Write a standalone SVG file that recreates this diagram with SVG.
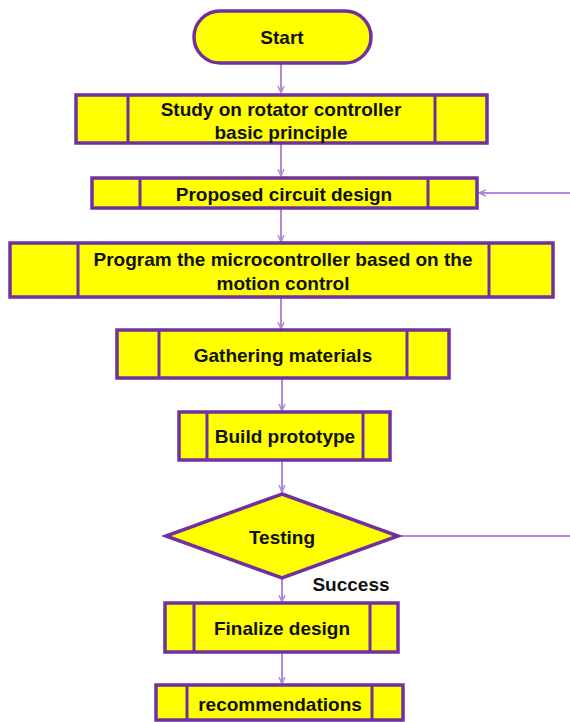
<svg xmlns="http://www.w3.org/2000/svg" width="570" height="722" viewBox="0 0 570 722">
<style>
.box{fill:#ffff00;stroke:#7030a0;stroke-width:3.5}
.div{stroke:#7030a0;stroke-width:3;fill:none}
.lbl{font-family:"Liberation Sans",Arial,sans-serif;font-weight:bold;font-size:19px;fill:#111;text-anchor:middle;dominant-baseline:central}
.con{stroke:#b08ad6;stroke-width:2;fill:none}
</style>
<defs>
<marker id="ah" markerWidth="8" markerHeight="8" refX="7" refY="4" orient="auto" markerUnits="userSpaceOnUse">
<path d="M0,1 L7,4 L0,7" fill="none" stroke="#b08ad6" stroke-width="1.5"/>
</marker>
</defs>
<rect width="570" height="722" fill="#ffffff"/>
<g id="connectors">
<line class="con" x1="281" y1="64" x2="281" y2="93" marker-end="url(#ah)"/>
<line class="con" x1="281" y1="144" x2="281" y2="176" marker-end="url(#ah)"/>
<line class="con" x1="281" y1="209" x2="281" y2="242" marker-end="url(#ah)"/>
<line class="con" x1="281" y1="298" x2="281" y2="329" marker-end="url(#ah)"/>
<line class="con" x1="282" y1="379" x2="282" y2="411" marker-end="url(#ah)"/>
<line class="con" x1="282" y1="461" x2="282" y2="492" marker-end="url(#ah)"/>
<line class="con" x1="282" y1="579" x2="282" y2="602" marker-end="url(#ah)"/>
<line class="con" x1="282" y1="653" x2="282" y2="684" marker-end="url(#ah)"/>
<line class="con" x1="570" y1="193" x2="479" y2="193" marker-end="url(#ah)"/>
<line class="con" x1="398" y1="536" x2="570" y2="536"/>
</g>
<g id="start">
<rect class="box" x="194" y="11" width="177" height="52" rx="26" ry="26"/>
<text class="lbl" x="282" y="37">Start</text>
</g>
<g id="study">
<rect class="box" x="76" y="95" width="411" height="48"/>
<line class="div" x1="128" y1="95" x2="128" y2="143"/>
<line class="div" x1="435" y1="95" x2="435" y2="143"/>
<text class="lbl" x="281" y="109">Study on rotator controller</text>
<text class="lbl" x="281" y="132">basic principle</text>
</g>
<g id="proposed">
<rect class="box" x="92" y="178" width="385" height="30"/>
<line class="div" x1="140" y1="178" x2="140" y2="208"/>
<line class="div" x1="428" y1="178" x2="428" y2="208"/>
<text class="lbl" x="284" y="194">Proposed circuit design</text>
</g>
<g id="program">
<rect class="box" x="10" y="243" width="543" height="54"/>
<line class="div" x1="78" y1="243" x2="78" y2="297"/>
<line class="div" x1="489" y1="243" x2="489" y2="297"/>
<text class="lbl" x="283" y="259">Program the microcontroller based on the</text>
<text class="lbl" x="283" y="283">motion control</text>
</g>
<g id="gathering">
<rect class="box" x="117" y="330" width="332" height="48"/>
<line class="div" x1="159" y1="330" x2="159" y2="378"/>
<line class="div" x1="407" y1="330" x2="407" y2="378"/>
<text class="lbl" x="283" y="355">Gathering materials</text>
</g>
<g id="build">
<rect class="box" x="179" y="412" width="211" height="48"/>
<line class="div" x1="207" y1="412" x2="207" y2="460"/>
<line class="div" x1="363" y1="412" x2="363" y2="460"/>
<text class="lbl" x="285" y="436">Build prototype</text>
</g>
<g id="testing">
<polygon class="box" points="282,494 398,536 282,578 166,536"/>
<text class="lbl" x="282" y="537">Testing</text>
</g>
<g id="success-label">
<text class="lbl" x="351" y="584">Success</text>
</g>
<g id="finalize">
<rect class="box" x="165" y="603" width="233" height="49"/>
<line class="div" x1="194" y1="603" x2="194" y2="652"/>
<line class="div" x1="370" y1="603" x2="370" y2="652"/>
<text class="lbl" x="282" y="628">Finalize design</text>
</g>
<g id="recommendations">
<rect class="box" x="156" y="685" width="247" height="35"/>
<line class="div" x1="187" y1="685" x2="187" y2="720"/>
<line class="div" x1="372" y1="685" x2="372" y2="720"/>
<text class="lbl" x="280" y="704">recommendations</text>
</g>
</svg>
